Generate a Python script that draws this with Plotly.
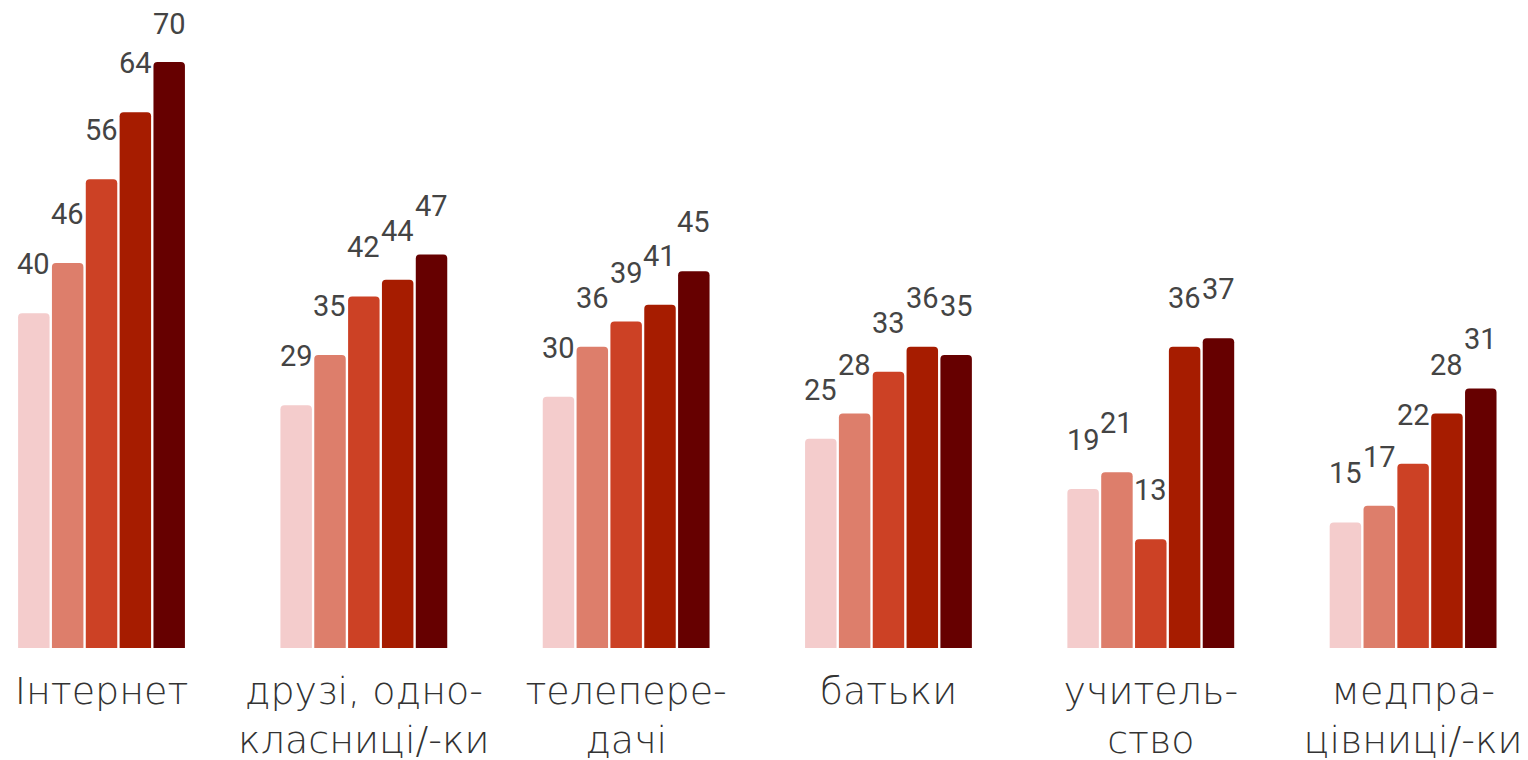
import plotly.graph_objects as go

categories = ["Інтернет", "друзі, одно-<br>класниці/-ки", "телепере-<br>дачі",
              "батьки", "учитель-<br>ство", "медпра-<br>цівниці/-ки"]
series_names = ["Серія 1", "Серія 2", "Серія 3", "Серія 4", "Серія 5"]
series_values = [
    [40, 29, 30, 25, 19, 15],
    [46, 35, 36, 28, 21, 17],
    [56, 42, 39, 33, 13, 22],
    [64, 44, 41, 36, 36, 28],
    [70, 47, 45, 35, 37, 31],
]
colors = ["#f4cccc", "#dd7e6b", "#cc4125", "#a61c00", "#660000"]

W, H = 1528, 760
MARGIN_B = 120
PLOT_H = H - MARGIN_B
Y_MAX = 76.45
x_range = [-0.3565, 5.4685]
bargap = 0.355
n = len(series_names)
px_per_cat = W / (x_range[1] - x_range[0])
slot = px_per_cat * (1 - bargap) / n
LABEL_SHIFT = 30
LABEL_BOX_H = 35

fig = go.Figure()
for k, (name, vals, c) in enumerate(zip(series_names, series_values, colors)):
    fig.add_trace(go.Bar(
        x=list(range(len(categories))), y=vals, name=name,
        marker=dict(color=c, cornerradius=4, line=dict(width=0)),
        hoverinfo="y",
    ))
    for i, v in enumerate(vals):
        top_px = PLOT_H * (1 - v / Y_MAX)
        shift = min(LABEL_SHIFT, top_px - LABEL_BOX_H)
        fig.add_annotation(
            x=i, y=v, text=str(v), showarrow=False,
            xshift=(k - (n - 1) / 2) * slot, yshift=shift,
            yanchor="bottom", xanchor="center",
            font=dict(family="Roboto", size=29, color="#444444"),
        )

fig.update_layout(
    width=W, height=H,
    margin=dict(l=0, r=0, t=0, b=MARGIN_B, autoexpand=False),
    barmode="group", bargap=bargap, bargroupgap=0.07,
    plot_bgcolor="white", paper_bgcolor="white",
    showlegend=False,
)
fig.update_xaxes(
    range=x_range, tickmode="array", tickvals=list(range(len(categories))),
    ticktext=categories, showgrid=False, zeroline=False, showline=False,
    automargin=False, ticklabelstandoff=17,
    ticks="", tickfont=dict(family="DejaVu Sans ExtraLight, DejaVu Sans Light, DejaVu Sans",
                            size=38, color="#333333"),
)
fig.update_yaxes(range=[0, Y_MAX], visible=False, automargin=False)

fig.write_html("out.html")
